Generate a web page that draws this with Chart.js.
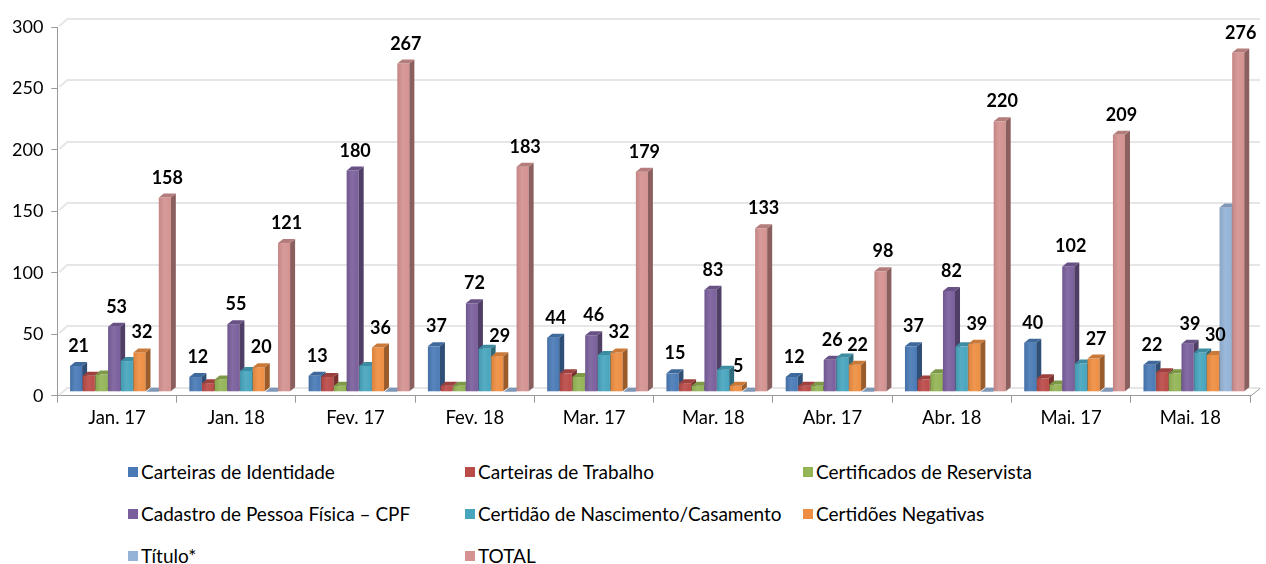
<!DOCTYPE html>
<html>
<head>
<meta charset="utf-8">
<script src="https://cdn.jsdelivr.net/npm/chart.js@4"></script>
<style>
  body { margin: 0; background: #fff; font-family: Lato, sans-serif; }
  #wrap { position: relative; width: 1266px; height: 564px; }
  #legend {
    position: absolute; left: 128px; top: 460px;
    display: grid; grid-template-columns: 337px 338px 337px;
    row-gap: 19px; font-size: 19px; color: #000;
  }
  #legend div { display: flex; align-items: center; height: 23px; white-space: nowrap; }
  #legend span.box { width: 10px; height: 10px; margin-right: 3px; display: inline-block; }
</style>
</head>
<body>
<div id="wrap">
  <canvas id="chart" width="1266" height="440"></canvas>
  <div id="legend"></div>
</div>
<script>
const categories = ['Jan. 17', 'Jan. 18', 'Fev. 17', 'Fev. 18', 'Mar. 17', 'Mar. 18', 'Abr. 17', 'Abr. 18', 'Mai. 17', 'Mai. 18'];
const seriesNames = ['Carteiras de Identidade', 'Carteiras de Trabalho', 'Certificados de Reservista',
  'Cadastro de Pessoa Física – CPF', 'Certidão de Nascimento/Casamento', 'Certidões Negativas', 'Título*', 'TOTAL'];
const identidade = [21, 12, 13, 37, 44, 15, 12, 37, 40, 22];
const trabalho   = [13, 7, 12, 5, 15, 7, 5, 10, 11, 16];
const reservista = [14, 10, 5, 5, 12, 5, 5, 15, 6, 15];
const cpf        = [53, 55, 180, 72, 46, 83, 26, 82, 102, 39];
const nascimento = [25, 17, 21, 35, 30, 18, 28, 37, 23, 32];
const negativas  = [32, 20, 36, 29, 32, 5, 22, 39, 27, 30];
const titulo     = [0, 0, 0, 0, 0, 0, 0, 0, 0, 150];
const total      = [158, 121, 267, 183, 179, 133, 98, 220, 209, 276];
const yTicks = [0, 50, 100, 150, 200, 250, 300];

const colors = ['#4A7AB6', '#BA4B48', '#93B455', '#7A5F9C', '#47A5BE', '#EE8E42', '#95B3D7', '#D49290'];
const labelled = [0, 3, 5, 7]; // series that show their value

const allSeries = [identidade, trabalho, reservista, cpf, nascimento, negativas, titulo, total];

// simple colour shading helper
function shade(hex, f) {
  const n = parseInt(hex.slice(1), 16);
  let r = n >> 16, g = (n >> 8) & 255, b = n & 255;
  if (f < 0) { r *= 1 + f; g *= 1 + f; b *= 1 + f; }
  else { r += (255 - r) * f; g += (255 - g) * f; b += (255 - b) * f; }
  return 'rgb(' + Math.round(r) + ',' + Math.round(g) + ',' + Math.round(b) + ')';
}

const BAR_DX = 5, BAR_DY = 4;    // bar depth
const WALL_DX = 10, WALL_DY = 8; // back wall offset

// draws the pseudo 3D walls, bars and value labels
const bars3d = {
  id: 'bars3d',
  beforeDatasetsDraw(chart) {
    const { ctx, chartArea, scales } = chart;
    const ys = scales.y;
    ctx.save();

    // back wall grid lines
    ctx.lineWidth = 2;
    ctx.strokeStyle = '#e6e6e6';
    ys.ticks.forEach(t => {
      const py = Math.round(ys.getPixelForValue(t.value));
      ctx.beginPath();
      ctx.moveTo(chartArea.left + 2, py - 1);
      ctx.lineTo(chartArea.left + WALL_DX, py - WALL_DY);
      ctx.lineTo(chartArea.right + WALL_DX, py - WALL_DY);
      ctx.stroke();
    });
    // floor right edge
    const fy = Math.round(ys.getPixelForValue(0)) + 0.5;
    ctx.lineWidth = 1;
    ctx.beginPath();
    ctx.moveTo(chartArea.right, fy);
    ctx.lineTo(chartArea.right + WALL_DX, fy - WALL_DY);
    ctx.strokeStyle = '#9a9a9a';
    ctx.stroke();

    // bars, dataset by dataset so later bars cover earlier side faces
    ctx.translate(3.5, -4);
    chart.data.datasets.forEach((ds, d) => {
      const meta = chart.getDatasetMeta(d);
      meta.data.forEach(el => {
        const w = el.width, x0 = el.x - w / 2, x1 = el.x + w / 2;
        const top = el.y, base = el.base;
        // front with a soft horizontal sheen
        const g = ctx.createLinearGradient(x0, 0, x1, 0);
        g.addColorStop(0, shade(ds.backgroundColor, -0.08));
        g.addColorStop(0.45, shade(ds.backgroundColor, 0.08));
        g.addColorStop(1, ds.backgroundColor);
        ctx.fillStyle = g;
        ctx.fillRect(x0, top, w, base - top);
        // side
        ctx.fillStyle = shade(ds.backgroundColor, -0.35);
        ctx.beginPath();
        ctx.moveTo(x1, top); ctx.lineTo(x1 + BAR_DX, top - BAR_DY);
        ctx.lineTo(x1 + BAR_DX, base - BAR_DY); ctx.lineTo(x1, base);
        ctx.closePath(); ctx.fill();
        // top
        ctx.fillStyle = shade(ds.backgroundColor, -0.15);
        ctx.beginPath();
        ctx.moveTo(x0, top); ctx.lineTo(x0 + BAR_DX, top - BAR_DY);
        ctx.lineTo(x1 + BAR_DX, top - BAR_DY); ctx.lineTo(x1, top);
        ctx.closePath(); ctx.fill();
      });
    });

    // value labels
    ctx.fillStyle = '#000';
    ctx.font = 'bold 18px Lato';
    ctx.textAlign = 'center';
    ctx.textBaseline = 'alphabetic';
    labelled.forEach(d => {
      const meta = chart.getDatasetMeta(d);
      meta.data.forEach((el, i) => {
        ctx.fillText(String(allSeries[d][i]), el.x + BAR_DX / 2, el.y - BAR_DY - 10);
      });
    });
    ctx.restore();
    return false;
  }
};

const chart = new Chart(document.getElementById('chart'), {
  type: 'bar',
  data: {
    labels: categories,
    datasets: allSeries.map((vals, i) => ({
      label: seriesNames[i],
      data: vals,
      backgroundColor: colors[i],
      categoryPercentage: 0.85,
      barPercentage: 0.95
    }))
  },
  options: {
    responsive: false,
    animation: false,
    layout: { padding: { left: 4, right: 16, top: 27, bottom: 7 } },
    plugins: { legend: { display: false }, tooltip: { enabled: false } },
    scales: {
      x: {
        border: { color: '#9a9a9a' },
        grid: { drawOnChartArea: false, tickLength: 7, color: '#9a9a9a' },
        ticks: { color: '#000', font: { family: 'Lato', size: 18.5 }, padding: 4 }
      },
      y: {
        min: 0, max: 300,
        afterBuildTicks(axis) { axis.ticks = yTicks.map(v => ({ value: v })); },
        border: { color: '#9a9a9a' },
        grid: { drawOnChartArea: false, tickLength: 6, color: '#9a9a9a' },
        ticks: { color: '#000', font: { family: 'Lato', size: 18 }, padding: 8 }
      }
    }
  },
  plugins: [bars3d]
});

// legend laid out in three columns like the original
const legend = document.getElementById('legend');
seriesNames.forEach((name, i) => {
  const item = document.createElement('div');
  const box = document.createElement('span');
  box.className = 'box';
  box.style.background = colors[i];
  item.appendChild(box);
  item.appendChild(document.createTextNode(name));
  legend.appendChild(item);
});
</script>
</body>
</html>
